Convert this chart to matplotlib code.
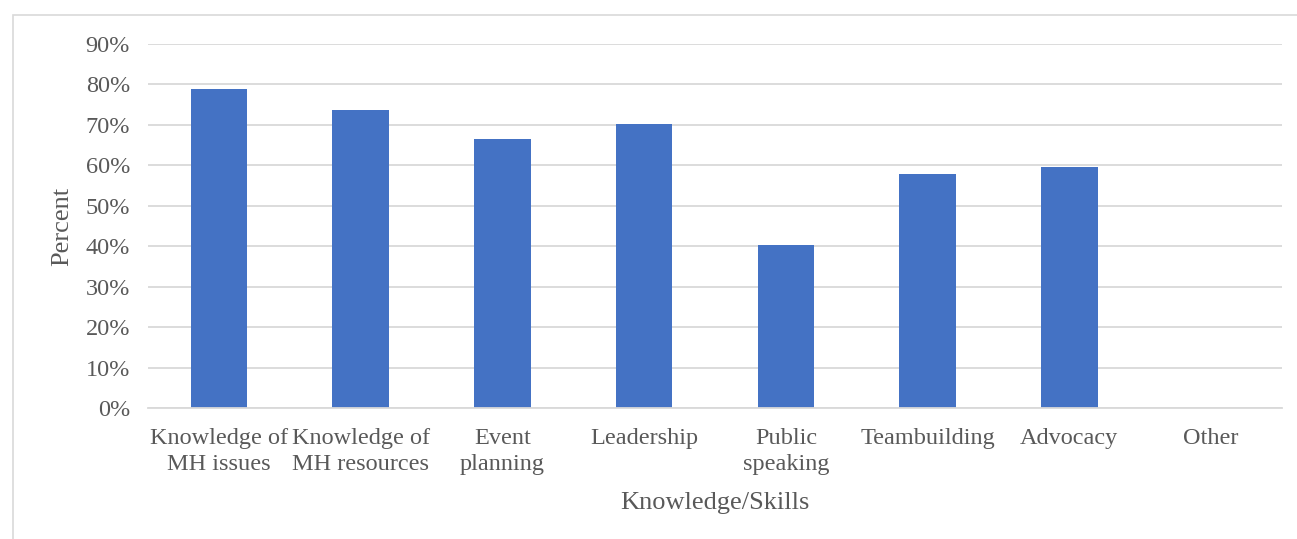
import matplotlib.pyplot as plt
from matplotlib.patches import Rectangle
from matplotlib.ticker import PercentFormatter

plt.rcParams['font.family'] = ['Liberation Serif', 'DejaVu Serif']

# share of respondents reporting each knowledge/skill
skills = ['Knowledge of\nMH issues', 'Knowledge of\nMH resources', 'Event\nplanning',
          'Leadership', 'Public\nspeaking', 'Teambuilding', 'Advocacy', 'Other']
percent = [78.9, 73.7, 66.5, 70.1, 40.4, 57.9, 59.6, 0.0]

bar_color = '#4472C4'
grid_color = '#d9d9d9'
text_color = '#595959'

fig = plt.figure(figsize=(12.97, 5.39), dpi=100)
# light chart border
fig.patches.append(Rectangle((12.5 / 1297, -0.1), 1.2, 1 - 14.5 / 539 + 0.1,
                             transform=fig.transFigure, fill=False,
                             edgecolor=grid_color, linewidth=1.2))

ax = fig.add_axes([148 / 1297, 1 - 408 / 539, (1282 - 148) / 1297, (408 - 44) / 539])
x = range(len(skills))
ax.bar(x, percent, width=0.4, color=bar_color, zorder=3)

ax.set_xlim(-0.5, len(skills) - 0.5)
ax.set_ylim(0, 90)
ax.set_yticks(range(0, 91, 10))
ax.yaxis.set_major_formatter(PercentFormatter(decimals=0))
ax.set_xticks(list(x))
ax.set_xticklabels(skills, linespacing=1.3)

ax.grid(axis='y', color=grid_color, linewidth=1.3, zorder=0)
for s in ['top', 'right', 'left']:
    ax.spines[s].set_visible(False)
ax.spines['bottom'].set_color(grid_color)
ax.spines['bottom'].set_linewidth(1.3)
ax.spines['bottom'].set_zorder(4)

ax.tick_params(axis='y', length=0, pad=13, labelsize=17.5, labelcolor=text_color)
ax.tick_params(axis='x', length=0, pad=14.5, labelsize=17.5, labelcolor=text_color)

ax.set_ylabel('Percent', fontsize=19, color=text_color)
ax.yaxis.set_label_coords(-0.076, 0.5)
ax.set_xlabel('Knowledge/Skills', fontsize=19, color=text_color)
ax.xaxis.set_label_coords(0.5, -0.26)
ax.xaxis.label.set_va('center')
ax.yaxis.label.set_va('center')

fig.savefig('out.png', dpi=100)
